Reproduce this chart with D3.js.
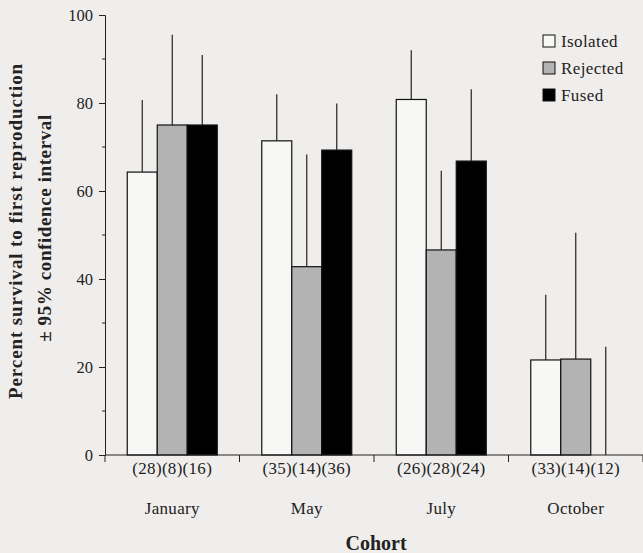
<!DOCTYPE html>
<html>
<head>
<meta charset="utf-8">
<script src="https://d3js.org/d3.v7.min.js"></script>
<style>
  body { margin: 0; background: #f0eeec; }
  text { font-family: "Liberation Serif", "DejaVu Serif", serif; fill: #222; }
</style>
</head>
<body>
<script>
// chart data
var cohorts = ["January", "May", "July", "October"];
var groups = ["Isolated", "Rejected", "Fused"];
var survival = {
  Isolated: [64.3, 71.4, 80.8, 21.6],
  Rejected: [75, 42.8, 46.6, 21.8],
  Fused:    [75, 69.3, 66.8, 0]
};
var upperCI = {
  Isolated: [80.7, 82, 92, 36.4],
  Rejected: [95.5, 68.3, 64.6, 50.5],
  Fused:    [90.9, 79.9, 83.1, 24.6]
};
var sampleSizes = ["(28)(8)(16)", "(35)(14)(36)", "(26)(28)(24)", "(33)(14)(12)"];
var yTicks = [0, 20, 40, 60, 80, 100];
var yMinor = [10, 30, 50, 70, 90];
var fills = { Isolated: "#f7f7f5", Rejected: "#b3b3b3", Fused: "#000" };

var width = 643, height = 553;
var mLeft = 105, mRight = 643, mTop = 15, mBottom = 455;

var svg = d3.select("body").append("svg")
    .attr("width", width)
    .attr("height", height);

var x = d3.scaleBand().domain(cohorts).range([mLeft, mRight]);
var barW = 30;
var xg = d3.scaleBand().domain(groups).range([-barW * 1.5, barW * 1.5]);
var y = d3.scaleLinear().domain([0, 100]).range([mBottom, mTop]);

// y axis
var yAxis = svg.append("g").attr("transform", "translate(" + mLeft + ",0)");
yAxis.call(d3.axisLeft(y).tickValues(yTicks).tickSize(6).tickPadding(6));
yAxis.selectAll("text")
    .style("font-size", "16.5px")
    .style("font-family", "Liberation Serif")
    .attr("fill", "#222");
yAxis.append("g").selectAll("line").data(yMinor).enter().append("line")
    .attr("x1", -3).attr("x2", 0)
    .attr("y1", function (d) { return y(d); })
    .attr("y2", function (d) { return y(d); })
    .attr("stroke", "#222");
yAxis.select(".domain").attr("stroke", "#222");
yAxis.selectAll(".tick line").attr("stroke", "#222");

// bars
var cells = [];
cohorts.forEach(function (c, i) {
  groups.forEach(function (g) {
    cells.push({ cohort: c, group: g, v: survival[g][i], hi: upperCI[g][i] });
  });
});

function cx(d) { return x(d.cohort) + x.bandwidth() / 2 + xg(d.group); }

svg.append("g").selectAll("rect").data(cells.filter(function (d) { return d.v > 0; }))
  .enter().append("rect")
    .attr("x", cx)
    .attr("y", function (d) { return y(d.v); })
    .attr("width", barW)
    .attr("height", function (d) { return y(0) - y(d.v); })
    .attr("fill", function (d) { return fills[d.group]; })
    .attr("stroke", "#111")
    .attr("stroke-width", 1.2);

// error bars (upper half only)
svg.append("g").selectAll("line").data(cells).enter().append("line")
    .attr("x1", function (d) { return cx(d) + barW / 2; })
    .attr("x2", function (d) { return cx(d) + barW / 2; })
    .attr("y1", function (d) { return y(d.v); })
    .attr("y2", function (d) { return y(d.hi); })
    .attr("stroke", "#222")
    .attr("stroke-width", 1.2);

// x axis
var xAxis = svg.append("g").attr("transform", "translate(0," + mBottom + ")");
xAxis.append("line").attr("x1", mLeft).attr("x2", mRight).attr("stroke", "#222").attr("stroke-width", 1.2);
xAxis.selectAll(".sep").data(cohorts).enter().append("line")
    .attr("class", "sep")
    .attr("x1", function (d) { return x(d) + x.bandwidth(); })
    .attr("x2", function (d) { return x(d) + x.bandwidth(); })
    .attr("y1", 0).attr("y2", 7)
    .attr("stroke", "#222");
xAxis.append("line").attr("x1", mLeft).attr("x2", mLeft).attr("y1", 0).attr("y2", 7).attr("stroke", "#222");

xAxis.selectAll(".n").data(sampleSizes).enter().append("text")
    .attr("x", function (d, i) { return x(cohorts[i]) + x.bandwidth() / 2; })
    .attr("y", 19)
    .attr("text-anchor", "middle")
    .style("font-size", "17px")
    .style("letter-spacing", "0.3px")
    .text(function (d) { return d; });

xAxis.selectAll(".m").data(cohorts).enter().append("text")
    .attr("x", function (d) { return x(d) + x.bandwidth() / 2; })
    .attr("y", 59)
    .attr("text-anchor", "middle")
    .style("font-size", "17px")
    .style("letter-spacing", "0.3px")
    .text(function (d) { return d; });

svg.append("text")
    .attr("x", (mLeft + mRight) / 2 + 2)
    .attr("y", 550)
    .attr("text-anchor", "middle")
    .style("font-size", "20px")
    .style("font-weight", "bold")
    .text("Cohort");

// y title
svg.append("text")
    .attr("transform", "translate(22,231) rotate(-90)")
    .attr("text-anchor", "middle")
    .style("font-size", "19px")
    .style("font-weight", "bold")
    .style("letter-spacing", "0.9px")
    .text("Percent survival to first reproduction");
svg.append("text")
    .attr("transform", "translate(51,228) rotate(-90)")
    .attr("text-anchor", "middle")
    .style("font-size", "19px")
    .style("font-weight", "bold")
    .style("letter-spacing", "0.6px")
    .text("± 95% confidence interval");

// legend
var legend = svg.append("g").attr("transform", "translate(543,35)");
var items = legend.selectAll("g").data(groups).enter().append("g")
    .attr("transform", function (d, i) { return "translate(0," + i * 27 + ")"; });
items.append("rect")
    .attr("width", 12).attr("height", 12)
    .attr("fill", function (d) { return fills[d]; })
    .attr("stroke", "#111");
items.append("text")
    .attr("x", 18).attr("y", 12)
    .style("font-size", "17px")
    .style("letter-spacing", "0.4px")
    .text(function (d) { return d; });
</script>
</body>
</html>
